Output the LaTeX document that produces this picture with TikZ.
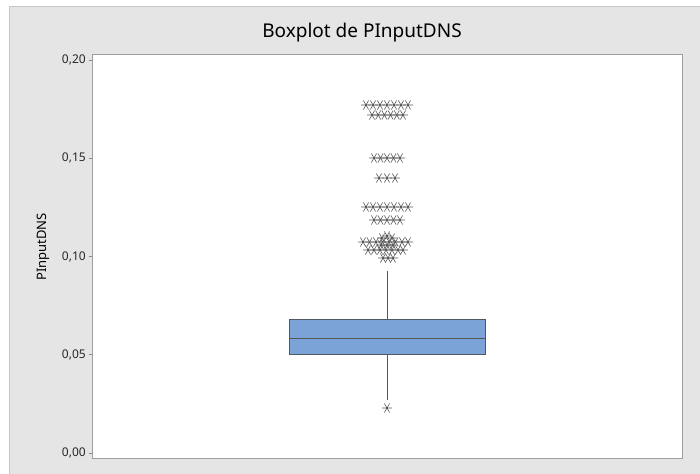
\documentclass[tikz,border=0pt]{standalone}
\usepackage{fontspec}
\setmainfont{Noto Sans}
\begin{document}
\begin{tikzpicture}[x=1pt,y=-1pt,
  framefill/.style={fill=black!10},
  plotbox/.style={fill=white,draw=black!38,line width=0.9pt},
  tickmark/.style={draw=black!45,line width=0.6pt},
  ticklabel/.style={anchor=east,font=\fontsize{12}{13}\selectfont,text=black!85,inner sep=0pt},
  iqrbox/.style={fill={rgb,255:red,124;green,163;blue,216},draw={rgb,255:red,80;green,88;blue,100},line width=0.8pt},
  whisker/.style={draw={rgb,255:red,85;green,85;blue,85},line width=0.8pt},
  ast/.pic={\draw[draw={rgb,255:red,90;green,90;blue,90},line width=0.6pt]
      (-5,0)--(5,0) (-2.6,-4.5)--(2.6,4.5) (-2.6,4.5)--(2.6,-4.5);}]
  % canvas and outer panel
  \useasboundingbox (0,0) rectangle (700,473);
  \fill[white] (0,0) rectangle (700,473);
  \draw[framefill,draw=black!22,line width=0.8pt] (9.5,6) rectangle (705,480);
  % title and axis label
  \node (title) at (362,33) {\fontsize{19}{22}\selectfont Boxplot de PInputDNS};
  \node[rotate=90] (ylab) at (43,247) {\fontsize{13}{15}\selectfont PInputDNS};
  % plot area
  \draw[plotbox] (92,54) rectangle (682,458);
  % y ticks: 0.05 per 98.25 px, zero at y=453
  \foreach \v/\lab in {0/{0,00},0.05/{0,05},0.10/{0,10},0.15/{0,15},0.20/{0,20}}{
    \pgfmathsetmacro{\yy}{453-\v*1965}
    \draw[tickmark] (88.5,\yy) -- (92,\yy);
    \node[ticklabel] at (86,\yy) {\lab};
  }
  % whiskers
  \coordinate (wtop) at (387,271);
  \coordinate (wbot) at (387,400);
  \draw[whisker] (wtop) -- (387,319);
  \draw[whisker] (387,354) -- (wbot);
  % interquartile box with median
  \draw[iqrbox] (289,319) rectangle (485,354);
  \draw[whisker] (289,338) -- (485,338);
  % outliers
  \pic at (387,408) {ast};
  \foreach \x in {366,373,380,387,394,401,408} \pic at (\x,105) {ast};
  \foreach \x in {372,378.2,384.4,390.6,396.8,403} \pic at (\x,115) {ast};
  \foreach \x in {374,380.5,387,393.5,400} \pic at (\x,158) {ast};
  \foreach \x in {379,387,395} \pic at (\x,178) {ast};
  \foreach \x in {366,373,380,387,394,401,408} \pic at (\x,207) {ast};
  \foreach \x in {374,380.5,387,393.5,400} \pic at (\x,220) {ast};
  \foreach \x in {387} \pic at (\x,236) {ast};
  \foreach \x in {382,392} \pic at (\x,238) {ast};
  \foreach \x in {363,369.5,376,382.5,389,395.5,402,408} \pic at (\x,242) {ast};
  \foreach \x in {381,387,393} \pic at (\x,245) {ast};
  \foreach \x in {368,374,380,386,392,398,403} \pic at (\x,250) {ast};
  \foreach \x in {383,388,393} \pic at (\x,258) {ast};
\end{tikzpicture}
\end{document}
